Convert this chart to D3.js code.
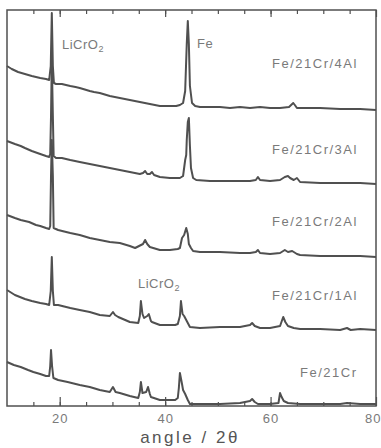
<!DOCTYPE html>
<html>
<head>
<meta charset="utf-8">
<script src="https://cdn.jsdelivr.net/npm/d3@7"></script>
<style>
  body { margin: 0; background: #fff; }
  svg { display: block; font-family: "Liberation Sans", Arial, sans-serif; }
</style>
</head>
<body>
<script>
// diffraction traces, [2theta, intensity (stacked, a.u.)]
const fe21cr4al = [[10.0,340],[10.9,337],[12.1,334],[13.4,332],[14.7,330],[15.5,329],[16.3,328],[17.4,327],[18.0,326],
  [18.3,340],[18.5,393],[18.7,340],[18.9,323],[19.3,322],[20.4,322],[21.2,321],[22.0,320],[23.0,319],[23.8,318],[25.7,315],
  [26.5,314],[27.6,313],[29.5,310],[31.4,308],[33.3,306],[35.2,304],[37.1,302],[39.0,300],[40.9,300],[42.1,300],[42.8,301],
  [43.4,303],[43.8,315],[44.1,362],[44.3,385],[44.5,362],[44.7,320],[45.1,303],[45.7,300],[46.6,299],[48.5,299],[50.4,299],
  [52.3,298],[54.2,299],[56.1,298],[58.0,299],[59.9,298],[61.8,298],[63.5,299],[64.1,302],[64.3,303],[64.6,301],[65.0,298],
  [65.6,298],[69.4,298],[73.2,297],[77.0,297],[80.0,296]];

const fe21cr3al = [[10.0,265],[11.5,262],[12.6,260],[13.4,258],[14.7,255],[16.3,252],[17.4,250],[18.0,249],[18.2,252],
  [18.35,290],[18.5,346],[18.7,290],[18.85,250],[19.3,248],[20.4,248],[22.0,246],[23.8,244],[25.7,242],[27.6,240],[29.5,238],
  [31.4,236],[33.3,234],[35.2,232],[35.8,233],[36.2,235],[36.6,232],[37.1,232],[37.5,234],[37.9,231],[39.0,229],[40.9,228],
  [42.8,228],[43.4,230],[43.8,246],[44.0,251],[44.1,266],[44.3,284],[44.5,288],[44.7,260],[44.9,238],[45.3,228],[45.9,226],
  [48.5,225],[52.3,225],[56.1,225],[57.2,226],[57.6,229],[58.0,226],[59.9,225],[61.8,226],[62.7,229],[63.3,230],[63.7,228],
  [64.4,226],[65.0,228],[65.6,224],[69.4,223],[73.2,223],[77.0,223],[80.0,222]];

const fe21cr2al = [[10.0,191],[11.5,188],[12.6,186],[14.2,184],[15.5,181],[16.3,180],[17.4,178],[18.0,177],[18.2,180],
  [18.35,230],[18.5,266],[18.7,230],[18.85,178],[19.7,176],[22.0,173],[23.8,171],[25.7,168],[27.6,166],[29.5,164],[31.4,163],
  [33.3,160],[34.3,158],[35.8,162],[36.2,166],[36.6,162],[37.1,159],[39.0,156],[40.9,156],[42.4,157],[42.8,158],[43.2,168],
  [43.6,171],[44.0,178],[44.3,172],[44.5,162],[44.9,158],[45.3,155],[46.6,154],[50.4,154],[54.2,153],[56.1,153],[57.2,154],
  [57.6,156],[58.0,153],[59.9,152],[61.8,153],[62.7,156],[63.3,154],[64.1,155],[65.0,152],[65.6,151],[69.4,150],[73.2,150],
  [77.0,150],[80.0,149]];

const fe21cr1al = [[10.0,116],[11.5,111],[13.4,107],[14.7,105],[16.3,103],[17.4,102],[18.0,101],[18.3,115],[18.5,149],
  [18.7,115],[18.9,101],[19.7,101],[22.0,98],[23.8,96],[25.7,94],[27.6,91],[29.5,90],[30.1,94],[30.5,91],[31.1,89],[33.3,84],
  [34.9,83],[35.2,90],[35.4,105],[35.7,92],[36.0,88],[36.6,90],[36.9,92],[37.3,85],[37.5,84],[39.0,81],[41.9,81],[42.4,82],
  [42.8,90],[43.0,105],[43.3,92],[43.6,90],[43.8,88],[44.7,79],[46.6,78],[50.4,79],[54.2,79],[56.1,81],[56.5,83],[57.0,80],
  [58.0,78],[59.9,78],[61.8,80],[62.2,86],[62.4,89],[62.8,84],[63.3,80],[64.4,78],[65.6,77],[69.4,77],[73.2,76],[74.5,78],
  [75.2,76],[77.0,77],[80.0,76]];

const fe21cr = [[10.0,44],[11.3,41],[12.6,39],[14.0,36],[15.0,34],[16.3,32],[17.4,30],[18.0,30],[18.2,40],[18.35,56],
  [18.55,40],[18.8,28],[19.7,26],[21.5,24],[23.8,21],[25.7,19],[27.6,16],[29.5,14],[30.1,19],[30.6,14],[31.4,13],[33.3,10],
  [34.9,8],[35.2,14],[35.4,24],[35.7,13],[36.4,14],[36.75,19],[37.1,12],[37.3,9],[39.0,6],[41.9,6],[42.4,8],[42.6,18],
  [42.8,33],[43.2,22],[43.4,16],[43.8,12],[44.3,6],[44.7,2],[46.6,2],[50.4,2],[54.2,3],[56.1,5],[56.5,7],[57.0,4],[57.6,2],
  [59.9,2],[61.5,3],[61.8,13],[62.1,9],[62.5,5],[63.3,3],[65.6,2],[69.4,2],[73.2,2],[74.5,3],[77.0,2],[80.0,2]];

const traces = [fe21cr4al, fe21cr3al, fe21cr2al, fe21cr1al, fe21cr];
const sampleNames = ["Fe/21Cr/4Al", "Fe/21Cr/3Al", "Fe/21Cr/2Al", "Fe/21Cr/1Al", "Fe/21Cr"];
const sampleLabelPos = [[272, 68], [272, 154], [272, 226], [272, 300], [300, 377]];
const majorTicks = [20, 40, 60, 80];
const minorTicks = d3.range(15, 80, 5);

const W = 381, H = 448;
const margin = { top: 10, right: 5, bottom: 42, left: 7 };
const width = 376 - margin.left;
const height = 406 - margin.top;

const x = d3.scaleLinear().domain([10, 80]).range([margin.left, margin.left + width]);
const y = d3.scaleLinear().domain([0, 396]).range([406, 10]);

const svg = d3.select('body').append('svg')
    .attr('width', W)
    .attr('height', H);

const ink = '#505050';
const textInk = '#7a7a7a';

// traces
const line = d3.line()
    .x(d => x(d[0]))
    .y(d => y(d[1]));

svg.append('g').selectAll('path')
    .data(traces)
    .join('path')
    .attr('d', line)
    .attr('fill', 'none')
    .attr('stroke', ink)
    .attr('stroke-width', 2)
    .attr('stroke-linejoin', 'round');

// frame
svg.append('rect')
    .attr('x', margin.left)
    .attr('y', margin.top)
    .attr('width', width)
    .attr('height', height)
    .attr('fill', 'none')
    .attr('stroke', ink)
    .attr('stroke-width', 1.5);

// bottom axis, ticks pointing inward
const bottomAxis = svg.append('g').attr('transform', `translate(0, ${margin.top + height})`);
bottomAxis.call(d3.axisBottom(x).tickValues(minorTicks).tickSize(-4).tickFormat(''));
bottomAxis.append('g').call(d3.axisBottom(x).tickValues(majorTicks).tickSize(-9).tickPadding(8).tickFormat(d3.format('d')));
bottomAxis.selectAll('.domain').remove();
bottomAxis.selectAll('line').attr('stroke', ink).attr('stroke-width', 1.2);
bottomAxis.selectAll('text')
    .attr('fill', textInk)
    .style('font-size', '13px')
    .style('letter-spacing', '1px');
// last label sits at the right edge, keep it inside the page
bottomAxis.selectAll('.tick text').filter(d => d === 80).attr('text-anchor', 'end').attr('x', 5);

// top axis
const topAxis = svg.append('g').attr('transform', `translate(0, ${margin.top})`);
topAxis.call(d3.axisTop(x).tickValues(minorTicks).tickSize(-4).tickFormat(''));
topAxis.append('g').call(d3.axisTop(x).tickValues(majorTicks).tickSize(-7).tickFormat(''));
topAxis.selectAll('.domain').remove();
topAxis.selectAll('line').attr('stroke', ink).attr('stroke-width', 1.2);

// x title
svg.append('text')
    .attr('x', 190)
    .attr('y', 443)
    .attr('text-anchor', 'middle')
    .attr('fill', '#555')
    .style('font-size', '17px')
    .style('letter-spacing', '2.5px')
    .text('angle / 2θ');

// sample names
svg.append('g').selectAll('text')
    .data(sampleNames)
    .join('text')
    .attr('x', (d, i) => sampleLabelPos[i][0])
    .attr('y', (d, i) => sampleLabelPos[i][1])
    .attr('fill', textInk)
    .style('font-size', '13px')
    .style('letter-spacing', '1.5px')
    .text(d => d);

// phase labels
function phase(px, py, main, sub) {
  const t = svg.append('text')
      .attr('x', px)
      .attr('y', py)
      .attr('fill', textInk)
      .style('font-size', '13px')
      .style('letter-spacing', '0.5px');
  t.append('tspan').text(main);
  if (sub) t.append('tspan').attr('dy', 3).style('font-size', '9px').text(sub);
}
phase(62, 49, 'LiCrO', '2');
phase(138, 288, 'LiCrO', '2');
phase(197, 48, 'Fe');
</script>
</body>
</html>
